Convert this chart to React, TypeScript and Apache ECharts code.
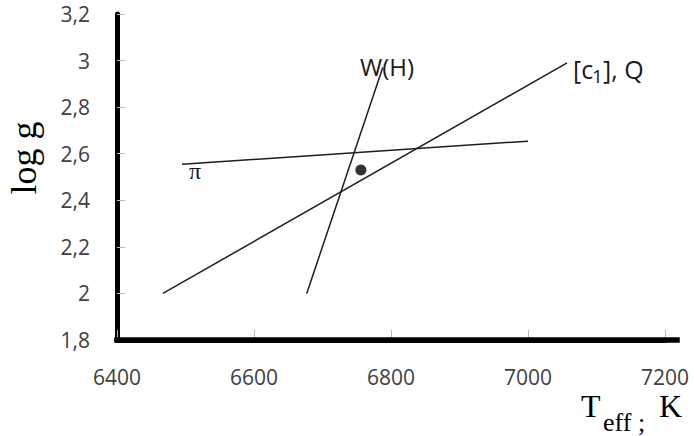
import React, { useEffect, useRef } from "react";
import * as echarts from "echarts";

const xMin = 6400;
const xMax = 7200;
const xStep = 200;
const yMin = 1.8;
const yMax = 3.2;
const yStep = 0.2;
const yTickValues = [1.8, 2, 2.2, 2.4, 2.6, 2.8, 3, 3.2];
const yTickLabels = ["1,8", "2", "2,2", "2,4", "2,6", "2,8", "3", "3,2"];

const qLine = [
  [6467, 2.0],
  [7057, 2.99],
];
const whLine = [
  [6677, 2.0],
  [6788, 2.97],
];
const piLine = [
  [6495, 2.555],
  [7000, 2.654],
];
const starPoint = [[6756, 2.53]];

const SANS = '"Open Sans", "Noto Sans", sans-serif';
const SERIF = '"Liberation Serif", "DejaVu Serif", serif';

export default function App() {
  const ref = useRef<HTMLDivElement>(null);

  useEffect(() => {
    if (!ref.current) return;
    const chart = echarts.init(ref.current, undefined, { renderer: "svg" });
    const lineStyle = { color: "#1e1e1e", width: 1.5 };
    const fmtY = (v: number) => {
      const i = yTickValues.findIndex((t) => Math.abs(t - v) < 1e-6);
      return i >= 0 ? yTickLabels[i] : "";
    };
    chart.setOption({
      animation: false,
      backgroundColor: "#ffffff",
      grid: { left: 117, right: 29, top: 14, bottom: 96 },
      xAxis: {
        type: "value",
        min: xMin,
        max: xMax,
        interval: xStep,
        axisLine: { show: true, onZero: false, lineStyle: { color: "#000", width: 5 } },
        axisTick: { show: true, inside: true, length: 10, lineStyle: { color: "#b8b8b8", width: 1 } },
        axisLabel: {
          margin: 26, color: "#404040", fontSize: 21, fontFamily: SANS,
          formatter: (v: number) => String(v),
        },
        splitLine: { show: false },
      },
      yAxis: {
        type: "value",
        min: yMin,
        max: yMax,
        interval: yStep,
        axisLine: { show: true, onZero: false, lineStyle: { color: "#000", width: 5 } },
        axisTick: { show: true, inside: true, length: 8, lineStyle: { color: "#b8b8b8", width: 1 } },
        axisLabel: { margin: 27, color: "#404040", fontSize: 21, fontFamily: SANS, formatter: fmtY },
        splitLine: { show: false },
      },
      series: [
        { type: "line", data: qLine, symbol: "none", lineStyle },
        { type: "line", data: whLine, symbol: "none", lineStyle },
        { type: "line", data: piLine, symbol: "none", lineStyle },
        { type: "scatter", data: starPoint, symbolSize: 11, itemStyle: { color: "#000" } },
      ],
      graphic: [
        { type: "rect", z: 100, shape: { x: 114.5, y: 337.5, width: 565, height: 5 }, style: { fill: "#000", stroke: "#000", lineWidth: 0.5 } },
        {
          type: "text", x: 24, y: 158, rotation: Math.PI / 2,
          style: { text: "log g", fontSize: 36, fontFamily: SERIF, fill: "#000", align: "center", verticalAlign: "middle" },
        },
        {
          type: "text", x: 581, y: 405.5,
          style: { text: "T", fontSize: 32, fontFamily: SERIF, fill: "#000", align: "left", verticalAlign: "middle" },
        },
        {
          type: "text", x: 603, y: 422,
          style: { text: "eff ;", fontSize: 26, fontFamily: SERIF, fill: "#000", align: "left", verticalAlign: "middle" },
        },
        {
          type: "text", x: 659, y: 405.5,
          style: { text: "K", fontSize: 32, fontFamily: SERIF, fill: "#000", align: "left", verticalAlign: "middle" },
        },
        {
          type: "text", x: 387, y: 66,
          style: { text: "W(H)", fontSize: 24, fontFamily: SANS, fill: "#1a1a1a", align: "center", verticalAlign: "middle" },
        },
        {
          type: "text", x: 573, y: 69,
          style: { text: "[c", fontSize: 25, fontFamily: SANS, fill: "#1a1a1a", align: "left", verticalAlign: "middle" },
        },
        {
          type: "text", x: 592, y: 76,
          style: { text: "1", fontSize: 19, fontFamily: SANS, fill: "#1a1a1a", align: "left", verticalAlign: "middle" },
        },
        {
          type: "text", x: 603, y: 69,
          style: { text: "], Q", fontSize: 25, fontFamily: SANS, fill: "#1a1a1a", align: "left", verticalAlign: "middle" },
        },
        {
          type: "text", x: 195, y: 171,
          style: { text: "π", fontSize: 24, fontFamily: SERIF, fill: "#1a1a1a", align: "center", verticalAlign: "middle" },
        },
      ],
    });
    return () => chart.dispose();
  }, []);

  return (
    <div
      ref={ref}
      style={{ position: "fixed", left: 0, top: 0, width: 694, height: 436, background: "#fff" }}
    />
  );
}
